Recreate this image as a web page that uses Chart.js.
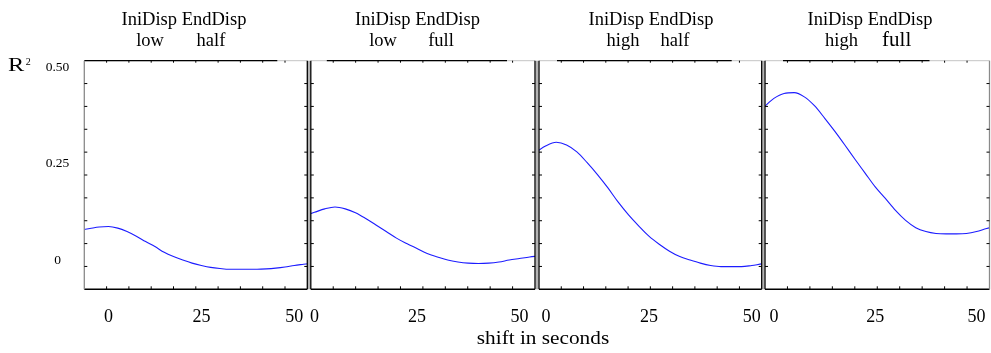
<!DOCTYPE html>
<html>
<head>
<meta charset="utf-8">
<title>R2 against shift</title>
<script src="https://cdn.jsdelivr.net/npm/chart.js@4.4.0/dist/chart.umd.min.js"></script>
<style>
body { margin: 0; background: #fff; }
#container { position: relative; width: 991px; height: 353px; overflow: hidden; font-family: "Liberation Serif", "Times New Roman", serif; color: #000; }
#container canvas { position: absolute; left: 0; top: 0; }
.txt { position: absolute; white-space: nowrap; line-height: 18px; font-size: 18.5px; }
</style>
</head>
<body>
<div id="container"></div>
<script>
'use strict';

// shift in seconds, shared by all four panels
let shiftSec = [-7.5, -5, -2.5, 0, 2.5, 5, 7.5, 10, 12.5, 15, 17.5, 20, 22.5, 25,
  27.5, 30, 32.5, 35, 37.5, 40, 42.5, 45, 47.5, 50, 52.5, 55];

let r2LowHalf = [0.078, 0.082, 0.086, 0.087, 0.083, 0.074, 0.062, 0.048, 0.035, 0.020, 0.009, 0.000, -0.008,
  -0.014, -0.019, -0.022, -0.024, -0.024, -0.024, -0.024, -0.023, -0.021, -0.018, -0.014, -0.011, -0.008];
let r2LowFull = [null, null, 0.115, 0.124, 0.133, 0.138, 0.133, 0.123, 0.108, 0.091, 0.074, 0.057, 0.043,
  0.030, 0.017, 0.008, 0.000, -0.005, -0.008, -0.009, -0.008, -0.005, 0.000, 0.004, 0.008, 0.011];
let r2HighHalf = [null, null, 0.280, 0.297, 0.306, 0.299, 0.281, 0.253, 0.222, 0.188, 0.151, 0.118, 0.089,
  0.062, 0.041, 0.023, 0.009, 0.000, -0.008, -0.014, -0.017, -0.017, -0.017, -0.014, -0.010, -0.007];
let r2HighFull = [null, null, 0.397, 0.420, 0.433, 0.435, 0.424, 0.401, 0.369, 0.335, 0.299, 0.262, 0.226,
  0.190, 0.160, 0.129, 0.103, 0.084, 0.074, 0.069, 0.068, 0.068, 0.069, 0.074, 0.082, 0.088];

let iniDisp = ['low', 'low', 'high', 'high'];
let endDisp = ['half', 'full', 'half', 'full'];
let headers = ['IniDisp', 'EndDisp'];

let xTickLabels = [0, 25, 50];
let yTickLabels = [0, 0.25, 0.5];

let panelData = [r2LowHalf, r2LowFull, r2HighHalf, r2HighFull];

// layout
let frames = [[84.3, 307.3], [310.8, 535], [539, 761.7], [765, 989.5]];
let plotTop = 60.7;
let plotBottom = 289.3;
let xRanges = [[-6.5, 53.5], [-0.9, 53.8], [-1.7, 52.4], [-2.2, 53.2]];
let yRange = [-0.076, 0.518];
let darkTop = [[0, 30], [16, 28], [18, 30], [18, 60]];
let headShift = [-11.8, -5.4, 0.65, -7.25];
let wordShift = [[-45.8, 15.2], [-39.9, 18.1], [-27.35, 24.65], [-35.75, 19.45]];

let container = document.getElementById('container');

function line(ctx, x1, y1, x2, y2) {
  ctx.beginPath();
  ctx.moveTo(x1, y1);
  ctx.lineTo(x2, y2);
  ctx.stroke();
}

let framePlugin = {
  id: 'frame',
  afterDraw(chart, args, opts) {
    let ctx = chart.ctx;
    let a = chart.chartArea;
    let w = a.right - a.left;
    let h = a.bottom - a.top;
    ctx.save();

    // grey gap between this panel and the next one
    if (opts.gap > 0) {
      ctx.fillStyle = '#b4b4b4';
      ctx.fillRect(a.right + 0.6, a.top, opts.gap - 1.2, h);
    }

    ctx.lineWidth = 1;
    ctx.strokeStyle = '#c4c4c4';
    line(ctx, a.left, a.top, a.right, a.top);
    ctx.strokeStyle = '#000';
    ctx.lineWidth = 1.3;
    line(ctx, a.left + opts.dark[0], a.top, a.right - opts.dark[1], a.top);

    ctx.lineWidth = 1.6;
    line(ctx, a.left, a.bottom, a.right, a.bottom);

    ctx.lineWidth = 1.3;
    ctx.strokeStyle = opts.leftColor;
    line(ctx, a.left, a.top, a.left, a.bottom);
    ctx.strokeStyle = opts.rightColor;
    line(ctx, a.right, a.top, a.right, a.bottom);

    // small inward ticks, ten divisions on every side
    ctx.strokeStyle = '#000';
    ctx.lineWidth = 1;
    for (let k = 1; k < 10; k++) {
      let x = a.left + w * k / 10;
      let y = a.top + h * k / 10;
      line(ctx, x, a.bottom, x, a.bottom - 3);
      line(ctx, x, a.top, x, a.top + 2);
      line(ctx, a.left, y, a.left + 3, y);
      line(ctx, a.right, y, a.right - 3, y);
    }

    ctx.fillStyle = '#000';
    ctx.font = '18px "Liberation Serif"';
    ctx.textAlign = 'center';
    ctx.textBaseline = 'alphabetic';
    let xs = chart.scales.x;
    xTickLabels.forEach(function (v) {
      ctx.fillText(String(v), xs.getPixelForValue(v), a.bottom + 32.4);
    });

    if (opts.showY) {
      let ys = chart.scales.y;
      ctx.font = '13.5px "Liberation Serif"';
      ctx.textBaseline = 'middle';
      yTickLabels.forEach(function (v) {
        let txt = v === 0 ? '0' : v.toFixed(2);
        ctx.fillText(txt, 57.5, ys.getPixelForValue(v));
      });
    }
    ctx.restore();
  }
};

function makePanel(i) {
  let canvas = document.createElement('canvas');
  canvas.width = 991;
  canvas.height = 353;
  container.appendChild(canvas);

  let f = frames[i];
  let gap = i < 3 ? frames[i + 1][0] - f[1] : 0;
  let points = shiftSec.map(function (s, j) {
    return { x: s, y: panelData[i][j] };
  });

  new Chart(canvas.getContext('2d'), {
    type: 'line',
    data: {
      datasets: [{
        data: points,
        borderColor: '#1c1cff',
        borderWidth: 1.1,
        pointRadius: 0,
        cubicInterpolationMode: 'monotone',
        spanGaps: false
      }]
    },
    options: {
      responsive: false,
      animation: false,
      events: [],
      layout: {
        padding: { left: f[0], right: 991 - f[1], top: plotTop, bottom: 353 - plotBottom }
      },
      scales: {
        x: { type: 'linear', min: xRanges[i][0], max: xRanges[i][1], display: false },
        y: { type: 'linear', min: yRange[0], max: yRange[1], display: false }
      },
      plugins: {
        legend: { display: false },
        tooltip: { enabled: false },
        frame: {
          gap: gap,
          dark: darkTop[i],
          leftColor: i === 0 ? '#8a8a8a' : '#000',
          rightColor: i === 3 ? '#8a8a8a' : '#000',
          showY: i === 0
        }
      }
    },
    plugins: [framePlugin]
  });
}

function addText(text, left, top, size, transform) {
  let el = document.createElement('div');
  el.className = 'txt';
  el.textContent = text;
  el.style.left = left + 'px';
  el.style.top = top + 'px';
  if (size) el.style.fontSize = size + 'px';
  el.style.transform = transform || 'translateX(-50%)';
  container.appendChild(el);
  return el;
}

for (let i = 0; i < 4; i++) {
  makePanel(i);
  let mid = (frames[i][0] + frames[i][1]) / 2;
  addText(headers.join(' '), mid + headShift[i], 9.8);
  addText(iniDisp[i], mid + wordShift[i][0], 30.8);
  let big = i === 3 ? 21 : 18.5;
  addText(endDisp[i], mid + wordShift[i][1], i === 3 ? 29.9 : 30.8, big);
}

// axis titles
let r = addText('R', 8, 55.6, 18, 'scaleX(1.35)');
r.style.transformOrigin = 'left top';
let sup = addText('2', 25.8, 56.6, 10, 'none');
sup.style.lineHeight = '10px';
let xt = addText('shift in seconds', 542.5, 329, 18.5, 'translateX(-50%) scaleX(1.15)');
</script>
</body>
</html>
